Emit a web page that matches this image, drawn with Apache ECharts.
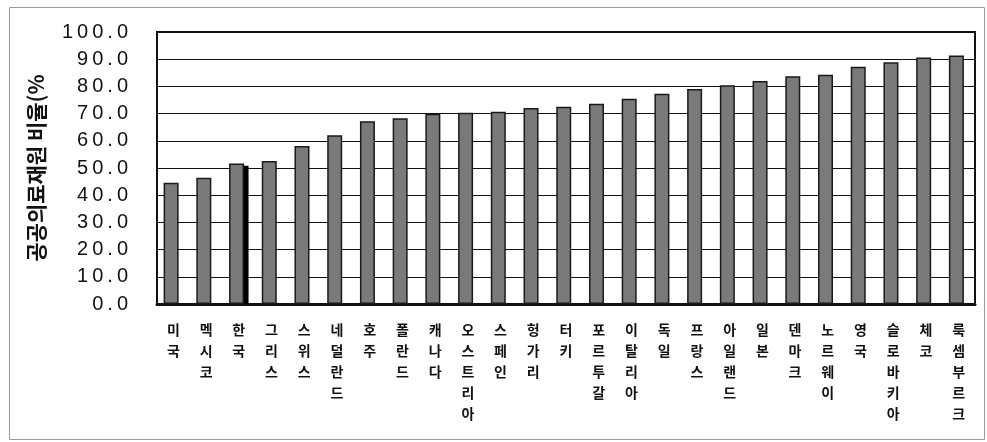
<!DOCTYPE html>
<html><head><meta charset="utf-8">
<script src="https://cdn.jsdelivr.net/npm/echarts@6/dist/echarts.min.js"></script>
<style>html,body{margin:0;padding:0;background:#fff}#c{width:987px;height:442px}</style>
</head><body><div id="c"></div>
<script>
const categories = ['미국','멕시코','한국','그리스','스위스','네덜란드','호주','폴란드','캐나다','오스트리아','스페인','헝가리','터키','포르투갈','이탈리아','독일','프랑스','아일랜드','일본','덴마크','노르웨이','영국','슬로바키아','체코','룩셈부르크'];
const publicShare = [44.6,46.4,51.7,52.6,58.1,62.0,67.2,68.3,69.9,70.3,70.7,72.1,72.5,73.6,75.5,77.3,79.0,80.4,82.0,83.7,84.3,87.2,88.9,90.6,91.4];
const koreaShadow = [null,null,50.8,null,null,null,null,null,null,null,null,null,null,null,null,null,null,null,null,null,null,null,null,null,null];
const yName = '공공의료재원 비율(%';

const chart = echarts.init(document.getElementById('c'));
chart.setOption({
  animation:false,
  graphic:[{type:'rect',left:7,top:5,shape:{width:975,height:432},style:{fill:'none',stroke:'#999',lineWidth:1},silent:true}],
  grid:{left:157,right:12,top:32,bottom:138,show:true,borderColor:'#111',borderWidth:2},
  xAxis:{type:'category',data:categories,
    axisLine:{lineStyle:{color:'#111',width:3}},axisTick:{show:false},
    axisLabel:{interval:0,margin:15,color:'#111',fontFamily:'Noto Sans CJK KR',fontWeight:'bold',fontSize:14,lineHeight:21,
      formatter:v=>v.split('').join('\n'),verticalAlign:'top'}},
  yAxis:{type:'value',min:0,max:100,interval:10,
    name:yName,nameLocation:'middle',nameRotate:90,nameGap:110,
    nameTextStyle:{fontFamily:'Noto Sans CJK KR',fontSize:21,fontWeight:'bold',color:'#111'},
    axisLine:{show:true,lineStyle:{color:'#111',width:2}},axisTick:{show:false},
    axisLabel:{margin:29,color:'#111',fontFamily:'Liberation Sans',fontSize:20,
      formatter:v=>v.toFixed(1).split('').join('\u2009')},
    splitLine:{lineStyle:{color:'#111',width:1}}},
  series:[
    {type:'bar',data:publicShare,barWidth:15,barGap:'-70%',z:3,
      itemStyle:{color:'#7a7a7a',borderColor:'#1a1a1a',borderWidth:1.5}},
    {type:'bar',data:koreaShadow,barWidth:15,z:2,
      itemStyle:{color:'#000'}}
  ]
});
</script></body></html>
